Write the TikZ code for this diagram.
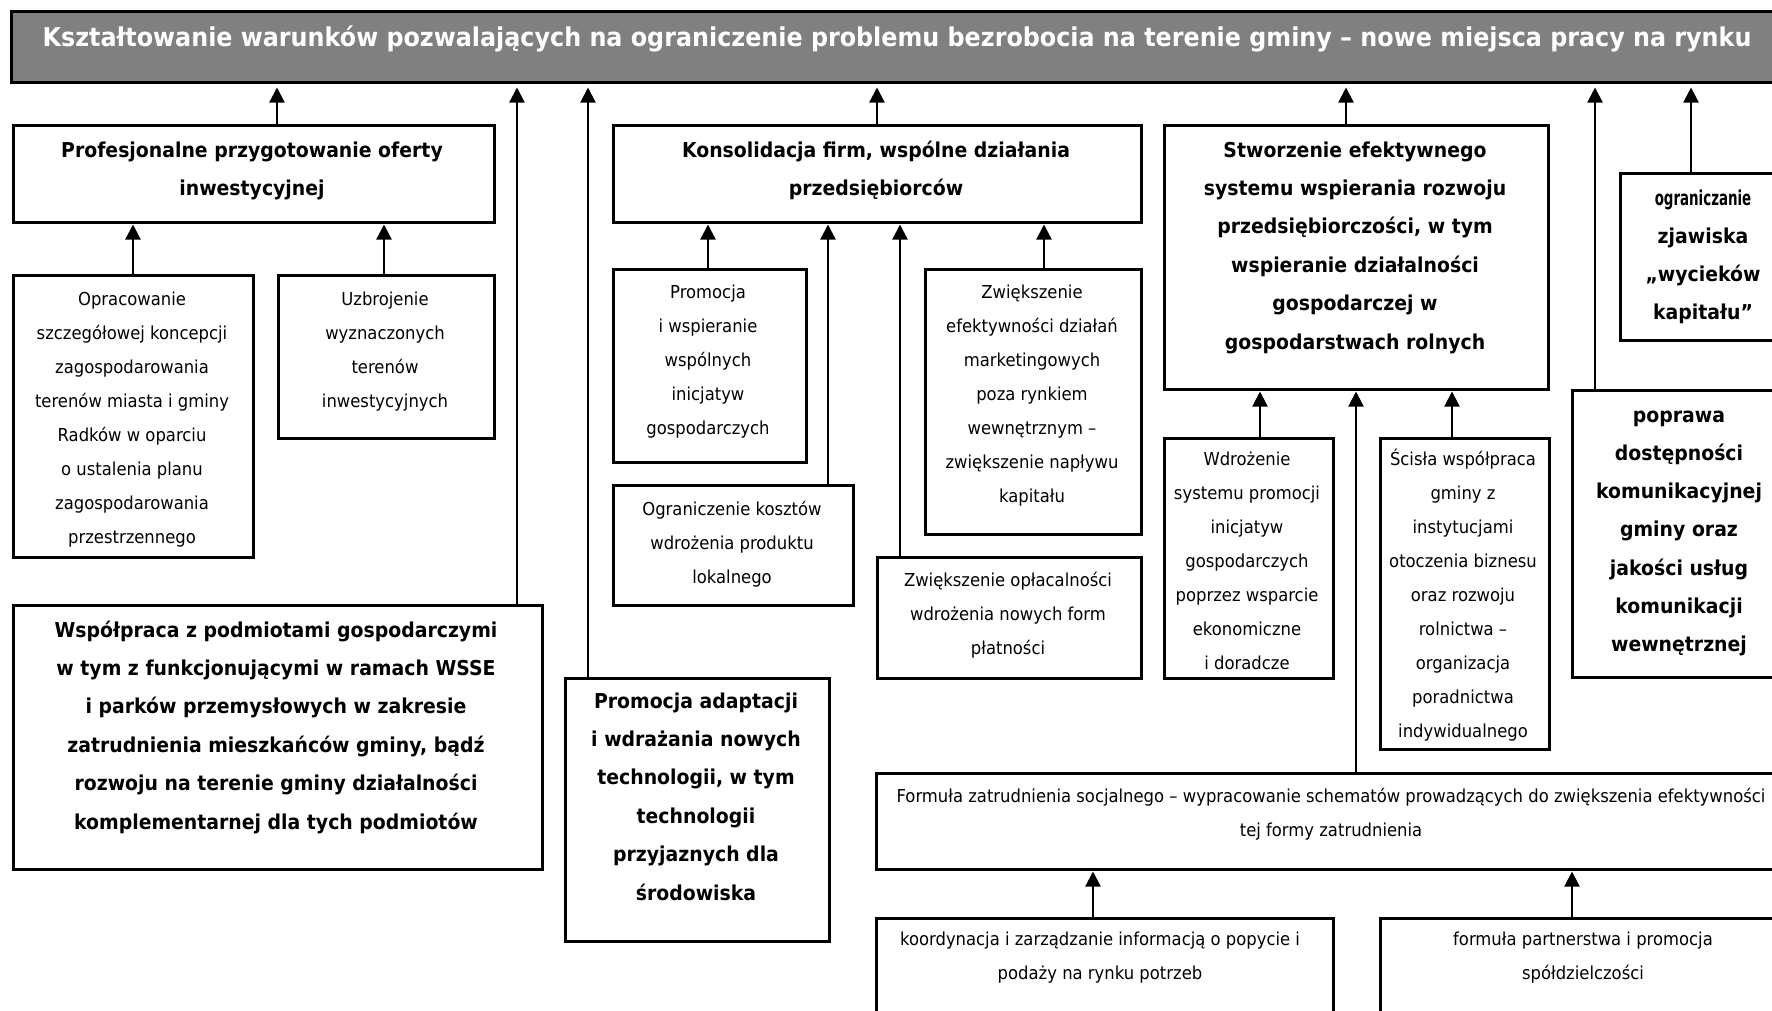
\documentclass[tikz,border=0pt]{standalone}
\usepackage{fontspec}
\setmainfont{DejaVu Sans}[FakeStretch=0.92]
\usepackage{graphicx}
\usetikzlibrary{arrows.meta}
\definecolor{titlegray}{RGB}{128,128,128}
\newcommand\fs{\rule{0pt}{24pt}}
\begin{document}
\begin{tikzpicture}[x=1pt,y=-1pt,
  box/.style={draw=black, line width=2.5pt, fill=white, inner sep=0pt, anchor=north west},
  reg/.style={anchor=north, inner sep=0pt, outer sep=0pt, align=center, font=\fontsize{17.85}{34}\selectfont},
  bld/.style={anchor=north, inner sep=0pt, outer sep=0pt, align=center, font=\bfseries\fontsize{20.5}{38.4}\selectfont},
  ttl/.style={anchor=north, inner sep=0pt, outer sep=0pt, text=white, font=\bfseries\fontsize{25.9}{30}\selectfont},
  arr/.style={line width=2.3pt, -{Triangle[length=15pt,width=15pt]}, shorten >=1pt},
  arrt/.style={arr, shorten >=3.5pt}]
\useasboundingbox (0,0) rectangle (1772,1010);
\clip (0,0) rectangle (1772,1010);

% boxes
\node[box, fill=titlegray, line width=3pt, minimum width=1777pt, minimum height=71pt] (T) at (10,10) {};
\node[box, minimum width=481pt, minimum height=97pt] (A) at (12,124) {};
\node[box, minimum width=240pt, minimum height=282pt] (A1) at (12,274) {};
\node[box, minimum width=216pt, minimum height=163pt] (A2) at (277,274) {};
\node[box, minimum width=529pt, minimum height=264pt] (W) at (12,604) {};
\node[box, minimum width=264pt, minimum height=263pt] (P) at (564,677) {};
\node[box, minimum width=528pt, minimum height=97pt] (K) at (612,124) {};
\node[box, minimum width=193pt, minimum height=193pt] (K1) at (612,268) {};
\node[box, minimum width=240pt, minimum height=120pt] (K2) at (612,484) {};
\node[box, minimum width=216pt, minimum height=265pt] (K3) at (924,268) {};
\node[box, minimum width=264pt, minimum height=121pt] (K4) at (876,556) {};
\node[box, minimum width=384pt, minimum height=264pt] (S) at (1163,124) {};
\node[box, minimum width=169pt, minimum height=240pt] (S1) at (1163,437) {};
\node[box, minimum width=169pt, minimum height=311pt] (S2) at (1379,437) {};
\node[box, minimum width=912pt, minimum height=96pt] (F) at (875,772) {};
\node[box, minimum width=457pt, minimum height=130pt] (F1) at (875,917) {};
\node[box, minimum width=408pt, minimum height=130pt] (F2) at (1379,917) {};
\node[box, minimum width=168pt, minimum height=167pt] (O) at (1619,172) {};
\node[box, minimum width=216pt, minimum height=287pt] (R) at (1571,389) {};

% texts
\node[ttl] (tT) at (897,22) {\fs Kształtowanie warunków pozwalających na ograniczenie problemu bezrobocia na terenie gminy – nowe miejsca pracy na rynku};
\node[bld] (tA) at (252,133) {\fs Profesjonalne przygotowanie oferty\\inwestycyjnej};
\node[bld] (tK) at (876,133) {\fs Konsolidacja firm, wspólne działania\\przedsiębiorców};
\node[bld] (tS) at (1355,133) {\fs Stworzenie efektywnego\\systemu wspierania rozwoju\\przedsiębiorczości, w tym\\wspieranie działalności\\gospodarczej w\\gospodarstwach rolnych};
\node[bld, font=\bfseries\fontsize{20.5}{38}\selectfont] (tO) at (1703,181) {\fs\scalebox{0.71}[1]{ograniczanie}\\zjawiska\\„wycieków\\kapitału”};
\node[bld, font=\bfseries\fontsize{20.5}{38.3}\selectfont] (tR) at (1679,398) {\fs poprawa\\dostępności\\komunikacyjnej\\gminy oraz\\jakości usług\\komunikacji\\wewnętrznej};
\node[bld] (tW) at (276,613) {\fs Współpraca z podmiotami gospodarczymi\\w tym z funkcjonującymi w ramach WSSE\\i parków przemysłowych w zakresie\\zatrudnienia mieszkańców gminy, bądź\\rozwoju na terenie gminy działalności\\komplementarnej dla tych podmiotów};
\node[bld] (tP) at (696,684) {\fs Promocja adaptacji\\i wdrażania nowych\\technologii, w tym\\technologii\\przyjaznych dla\\środowiska};
\node[reg] (tA1) at (132,281) {\fs Opracowanie\\szczegółowej koncepcji\\zagospodarowania\\terenów miasta i gminy\\Radków w oparciu\\o ustalenia planu\\zagospodarowania\\przestrzennego};
\node[reg] (tA2) at (385,281) {\fs Uzbrojenie\\wyznaczonych\\terenów\\inwestycyjnych};
\node[reg] (tK1) at (708,274) {\fs Promocja\\i wspieranie\\wspólnych\\inicjatyw\\gospodarczych};
\node[reg] (tK2) at (732,491) {\fs Ograniczenie kosztów\\wdrożenia produktu\\lokalnego};
\node[reg] (tK3) at (1032,274) {\fs Zwiększenie\\efektywności działań\\marketingowych\\poza rynkiem\\wewnętrznym –\\zwiększenie napływu\\kapitału};
\node[reg] (tK4) at (1008,562) {\fs Zwiększenie opłacalności\\wdrożenia nowych form\\płatności};
\node[reg] (tS1) at (1247,441) {\fs Wdrożenie\\systemu promocji\\inicjatyw\\gospodarczych\\poprzez wsparcie\\ekonomiczne\\i doradcze};
\node[reg] (tS2) at (1463,441) {\fs Ścisła współpraca\\gminy z\\instytucjami\\otoczenia biznesu\\oraz rozwoju\\rolnictwa –\\organizacja\\poradnictwa\\indywidualnego};
\node[reg] (tF) at (1331,778) {\fs Formuła zatrudnienia socjalnego – wypracowanie schematów prowadzących do zwiększenia efektywności\\tej formy zatrudnienia};
\node[reg] (tF1) at (1100,921) {\fs koordynacja i zarządzanie informacją o popycie i\\podaży na rynku potrzeb};
\node[reg] (tF2) at (1583,921) {\fs formuła partnerstwa i promocja\\spółdzielczości};

% connector x positions
\coordinate (xA) at (277,0);
\coordinate (xA1) at (133,0);
\coordinate (xA2) at (384,0);
\coordinate (xW) at (517,0);
\coordinate (xP) at (588,0);
\coordinate (xK) at (877,0);
\coordinate (xK1) at (708,0);
\coordinate (xK2) at (828,0);
\coordinate (xK4) at (900,0);
\coordinate (xK3) at (1044,0);
\coordinate (xS) at (1346,0);
\coordinate (xS1) at (1260,0);
\coordinate (xF) at (1356,0);
\coordinate (xS2) at (1452,0);
\coordinate (xR) at (1595,0);
\coordinate (xO) at (1691,0);
\coordinate (xF1) at (1093,0);
\coordinate (xF2) at (1572,0);

% connectors
\draw[arrt] (A.north -| xA) -- (T.south -| xA);
\draw[arrt] (W.north -| xW) -- (T.south -| xW);
\draw[arrt] (P.north -| xP) -- (T.south -| xP);
\draw[arrt] (K.north -| xK) -- (T.south -| xK);
\draw[arrt] (S.north -| xS) -- (T.south -| xS);
\draw[arrt] (R.north -| xR) -- (T.south -| xR);
\draw[arrt] (O.north -| xO) -- (T.south -| xO);
\draw[arr] (A1.north -| xA1) -- (A.south -| xA1);
\draw[arr] (A2.north -| xA2) -- (A.south -| xA2);
\draw[arr] (K1.north -| xK1) -- (K.south -| xK1);
\draw[arr] (K2.north -| xK2) -- (K.south -| xK2);
\draw[arr] (K4.north -| xK4) -- (K.south -| xK4);
\draw[arr] (K3.north -| xK3) -- (K.south -| xK3);
\draw[arr] (S1.north -| xS1) -- (S.south -| xS1);
\draw[arr] (F.north -| xF) -- (S.south -| xF);
\draw[arr] (S2.north -| xS2) -- (S.south -| xS2);
\draw[arr] (F1.north -| xF1) -- (F.south -| xF1);
\draw[arr] (F2.north -| xF2) -- (F.south -| xF2);
\end{tikzpicture}
\end{document}
